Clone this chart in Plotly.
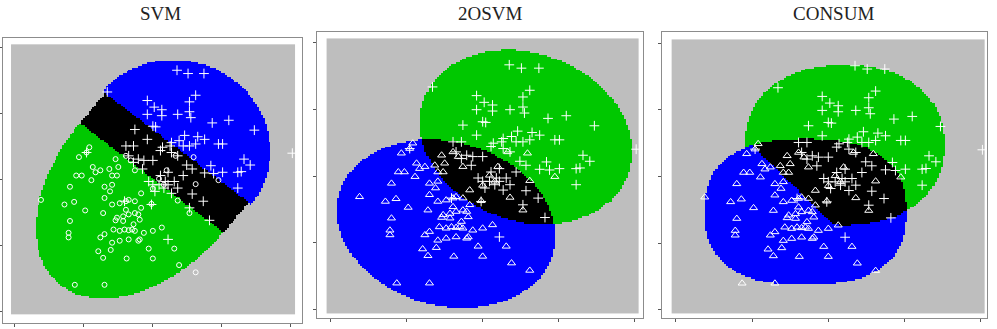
import numpy as np
import plotly.graph_objects as go

# ---------------- data (shared by the three panels) ----------------
titles = ["SVM", "2OSVM", "CONSUM"]
tick_vals = [0, 1, 2, 3, 4]

# class "+" samples
plus_x = [2.35, 2.51, 2.74, 1.34, 2.62, 1.92, 2.02, 2.13, 2.53, 2.53, 2.36, 1.92, 2.13, 2.55,
          3.10, 2.86, 3.47, 1.74, 2.00, 2.04, 2.46, 2.65, 2.75, 2.95, 3.01, 1.92, 2.14, 2.25,
          2.27, 2.38, 2.44, 2.53, 2.62, 3.32, 3.41, 3.23, 3.28, 3.01, 2.84, 2.88, 2.75, 2.57,
          2.49, 2.36, 2.27, 2.11, 2.00, 1.87, 1.79, 1.65, 3.23, 2.18, 2.22, 2.09, 2.31, 2.03,
          2.27, 2.36, 2.57, 2.73, 2.82, 2.53, 2.44, 2.22, 1.85, 1.72, 1.61, 1.72, 1.04, 2.22,
          1.98, 1.59, 2.11, 2.16, 1.94, 2.00, 4.02]
plus_y = [3.66, 3.61, 3.61, 3.33, 3.28, 3.20, 3.10, 3.06, 3.18, 3.03, 2.99, 2.99, 2.97, 2.94,
          2.90, 2.86, 2.75, 2.76, 2.81, 2.80, 2.67, 2.65, 2.61, 2.54, 2.54, 2.61, 2.49, 2.51,
          2.56, 2.59, 2.51, 2.51, 2.54, 2.31, 2.22, 2.11, 2.12, 2.11, 2.21, 2.09, 2.10, 2.16,
          2.22, 2.36, 2.41, 2.44, 2.29, 2.29, 2.31, 2.36, 1.87, 1.97, 1.92, 1.92, 1.97, 1.82,
          1.79, 1.87, 1.78, 1.67, 1.38, 1.57, 2.06, 2.11, 2.16, 2.26, 2.51, 2.51, 2.41, 1.09,
          1.62, 1.67, 2.06, 1.87, 1.97, 1.92, 2.40]

# class "triangle / circle" samples
tri_x = [1.08, 0.93, 1.04, 1.13, 0.89, 0.97, 1.17, 1.24, 1.41, 1.37, 1.11, 0.80, 1.30, 1.41,
         1.38, 0.38, 0.72, 0.86, 1.02, 1.28, 1.30, 1.41, 1.52, 1.61, 1.65, 1.74, 1.83, 1.61,
         0.80, 1.48, 1.46, 1.57, 1.65, 1.81, 1.79, 0.78, 0.78, 1.30, 1.24, 1.43, 1.52, 1.59,
         1.65, 1.70, 1.74, 1.79, 1.87, 2.00, 2.13, 1.41, 1.52, 1.65, 1.81, 1.21, 1.39, 1.94,
         2.31, 1.28, 1.62, 2.00, 2.38, 2.62, 0.87, 1.30, 1.46, 1.61, 1.68, 1.74, 1.50, 1.48,
         1.83, 1.98, 2.20, 2.36, 2.53, 2.62, 2.95, 2.33, 2.59, 1.57, 1.72, 1.74, 2.09, 2.16,
         2.00]
tri_y = [2.49, 2.34, 2.41, 2.19, 2.06, 2.06, 2.11, 2.14, 2.06, 2.16, 1.99, 1.89, 1.89, 1.92,
         1.82, 1.69, 1.62, 1.66, 1.53, 1.49, 1.72, 1.62, 1.64, 1.67, 1.69, 1.67, 1.57, 1.54,
         1.37, 1.42, 1.38, 1.44, 1.47, 1.39, 1.47, 1.19, 1.12, 1.17, 1.12, 1.24, 1.22, 1.24,
         1.23, 1.24, 1.22, 1.07, 1.19, 1.22, 1.27, 1.04, 1.07, 1.09, 1.09, 0.91, 0.93, 0.95,
         0.95, 0.81, 0.80, 0.80, 0.70, 0.59, 0.40, 0.40, 2.31, 2.36, 2.29, 2.14, 2.19, 2.06,
         1.79, 1.63, 2.14, 1.68, 1.49, 1.93, 1.99, 2.36, 2.34, 1.37, 1.32, 1.49, 2.01, 1.92,
         1.86]

# decision-region shape parameters
# ellipse: [cx, cy, semi_a, semi_b, angle_deg, exponent]
p2_green = [2.57, 2.58, 1.47, 1.22, -33.0, 2.0]
p2_blue = [1.52, 1.285, 1.482, 1.205, -24.0, 2.0]
p3_green = [2.216, 2.472, 1.311, 1.199, 0.0, 2.2]
p3_blue = [1.705, 1.468, 1.325, 1.094, 0.0, 2.5]
p3_cut = [1.036, 2.427, 2.111, 1.229]          # line through two points
# SVM panel: frame origin, band direction angle, band limits, half-ellipse params
p1_origin = [2.2, 2.3]
p1_angle = -38.7
p1_band = [-0.35, 0.23]
p1_blue = [0.0, 0.2, 1.38, 1.35]
p1_green = [0.0, -0.35, 1.33, 2.1]
p1_halflen = 1.33

grid_lo, grid_hi, grid_n = -0.04, 4.04, 150

GRAY, GREEN, BLUE, BLACK = 0, 1, 2, 3


def inside(X, Y, p):
    cx, cy, a, b, ang, n = p
    t = np.deg2rad(ang)
    dx, dy = X - cx, Y - cy
    u = dx * np.cos(t) + dy * np.sin(t)
    v = -dx * np.sin(t) + dy * np.cos(t)
    return np.abs(u / a) ** n + np.abs(v / b) ** n <= 1.0


g = np.linspace(grid_lo, grid_hi, grid_n)
X, Y = np.meshgrid(g, g)

# panel 1 (SVM)
t = np.deg2rad(p1_angle)
dx, dy = X - p1_origin[0], Y - p1_origin[1]
U = dx * np.cos(t) + dy * np.sin(t)
V = -dx * np.sin(t) + dy * np.cos(t)
z1 = np.full(X.shape, GRAY)
blue1 = (V > p1_band[1]) & (((U - p1_blue[0]) / p1_blue[2]) ** 2 + ((V - p1_blue[1]) / p1_blue[3]) ** 2 <= 1)
green1 = (V < p1_band[0]) & (((U - p1_green[0]) / p1_green[2]) ** 2 + ((V - p1_green[1]) / p1_green[3]) ** 2 <= 1)
black1 = (V >= p1_band[0]) & (V <= p1_band[1]) & (np.abs(U) <= p1_halflen)
z1[blue1] = BLUE
z1[green1] = GREEN
z1[black1] = BLACK

# panel 2 (2OSVM)
G2, B2 = inside(X, Y, p2_green), inside(X, Y, p2_blue)
z2 = np.full(X.shape, GRAY)
z2[G2] = GREEN
z2[B2] = BLUE
z2[G2 & B2] = BLACK

# panel 3 (CONSUM)
G3, B3 = inside(X, Y, p3_green), inside(X, Y, p3_blue)
x0, y0, x1, y1 = p3_cut
side = (X - x0) * (-(y1 - y0)) + (Y - y0) * (x1 - x0)
z3 = np.full(X.shape, GRAY)
z3[G3] = GREEN
z3[B3] = BLUE
z3[G3 & B3 & (side >= 0)] = BLACK

colorscale = [[0, "#bebebe"], [0.25, "#bebebe"], [0.25, "#00c800"], [0.5, "#00c800"],
              [0.5, "#0000ff"], [0.75, "#0000ff"], [0.75, "#000000"], [1, "#000000"]]

W, H = 997, 329
frames = [  # pixel frame of each panel: x0, x1, y0(top), y1(bottom)
    (3, 302, 38, 323),
    (317, 643, 32, 318),
    (662, 987, 32, 318),
]
ranges = [
    ([-0.17, 4.16], [-0.18, 4.15]),
    ([-0.18, 4.11], [-0.12, 4.15]),
    ([-0.18, 4.08], [-0.12, 4.165]),
]
title_x = [160, 490, 833]

fig = go.Figure()
for i, z in enumerate([z1, z2, z3]):
    xa = "x" if i == 0 else f"x{i+1}"
    ya = "y" if i == 0 else f"y{i+1}"
    fig.add_trace(go.Heatmap(x=g, y=g, z=z, colorscale=colorscale, zmin=-0.5, zmax=3.5,
                             showscale=False, xaxis=xa, yaxis=ya, hoverinfo="skip"))
    fig.add_trace(go.Scatter(x=plus_x, y=plus_y, mode="markers", xaxis=xa, yaxis=ya,
                             marker=dict(symbol="cross-thin-open", size=7, color="white",
                                         line=dict(color="white", width=1)),
                             showlegend=False))
    sym = "circle-open" if i == 0 else "triangle-up-open"
    size = 5 if i == 0 else 7
    fig.add_trace(go.Scatter(x=tri_x, y=tri_y, mode="markers", xaxis=xa, yaxis=ya,
                             marker=dict(symbol=sym, size=size, color="white",
                                         line=dict(color="white", width=1)),
                             showlegend=False))

layout = dict(width=W, height=H, margin=dict(l=0, r=0, t=0, b=0),
              paper_bgcolor="white", plot_bgcolor="white", showlegend=False)
for i, (fx0, fx1, fy0, fy1) in enumerate(frames):
    sx = "xaxis" if i == 0 else f"xaxis{i+1}"
    sy = "yaxis" if i == 0 else f"yaxis{i+1}"
    common = dict(showline=True, mirror=True, linecolor="#8c8c8c", linewidth=1,
                  ticks="outside", ticklen=3, tickcolor="#555", tickwidth=1,
                  showticklabels=False, showgrid=False, zeroline=False,
                  tickvals=tick_vals, fixedrange=True)
    layout[sx] = dict(domain=[fx0 / W, fx1 / W], range=ranges[i][0],
                      anchor="y" if i == 0 else f"y{i+1}", **common)
    layout[sy] = dict(domain=[1 - fy1 / H, 1 - fy0 / H], range=ranges[i][1],
                      anchor="x" if i == 0 else f"x{i+1}", **common)
fig.update_layout(**layout)

for i, t in enumerate(titles):
    fig.add_annotation(text=t, x=title_x[i] / W, y=1 - 14 / H, xref="paper", yref="paper",
                       showarrow=False, xanchor="center", yanchor="middle",
                       font=dict(family="Liberation Serif", size=19, color="#222"))

fig.write_html("out.html")
